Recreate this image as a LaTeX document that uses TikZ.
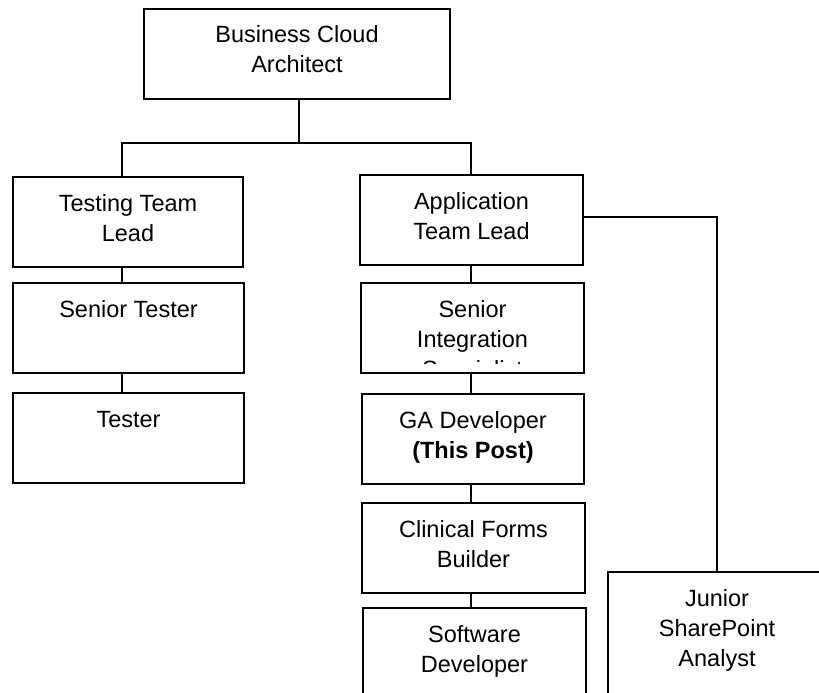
\documentclass[tikz,border=0pt]{standalone}
\usepackage{fontspec}
\setmainfont{Liberation Sans}
\newcommand{\lines}[1]{\begin{tabular}[t]{@{}c@{}}#1\end{tabular}}
\begin{document}
\begin{tikzpicture}[x=1pt,y=-1pt,
  box/.style={draw, line width=1.5pt, inner sep=0pt, minimum height=90pt},
  conn/.style={draw, line width=1.3pt},
  lbl/.style={anchor=base, inner sep=0pt, font=\fontsize{23.5}{30}\selectfont}]
\useasboundingbox (0,0) rectangle (819,693);
\clip (0,0) rectangle (819,693);
\fill[white] (0,0) rectangle (819,693);
% boxes
\node[box, minimum width=306pt] (top) at (297,54) {};
\node[box, minimum width=230pt] (ttl) at (128,222) {};
\node[box, minimum width=231pt] (st)  at (128.5,328) {};
\node[box, minimum width=231pt] (tst) at (128.5,438) {};
\node[box, minimum width=223pt] (app) at (471.5,220) {};
\node[box, minimum width=223pt] (sis) at (472.5,328) {};
\node[box, minimum width=222pt] (ga)  at (473,439) {};
\node[box, minimum width=223pt] (cfb) at (473.5,548) {};
\node[box, minimum width=223pt] (sd)  at (474.5,653) {};
\node[box, minimum width=218pt, minimum height=150pt] (jsa) at (717,647) {};
% labels
\node[lbl] (top-t) at (297,43) {\lines{Business Cloud\\Architect}};
\node[lbl] (ttl-t) at (128,211) {\lines{Testing Team\\Lead}};
\node[lbl] (st-t)  at (128.5,317) {\lines{Senior Tester}};
\node[lbl] (tst-t) at (128.5,427) {\lines{Tester}};
\node[lbl] (app-t) at (471.5,209) {\lines{Application\\Team Lead}};
\begin{scope}
  \clip (361,283) rectangle (584,363.5);
  \node[lbl] (sis-t) at (472.5,317) {\lines{Senior\\Integration\\Specialist}};
\end{scope}
\node[lbl] (ga-t)  at (473,428) {\lines{GA Developer\\\textbf{(This Post)}}};
\node[lbl] (cfb-t) at (473.5,537) {\lines{Clinical Forms\\Builder}};
\node[lbl] (sd-t)  at (474.5,642) {\lines{Software\\Developer}};
\node[lbl] (jsa-t) at (717,606) {\lines{Junior\\SharePoint\\Analyst}};
% connectors
\coordinate (bus) at (299,143);
\coordinate (lx) at (122,0);
\coordinate (rx) at (471,0);
\coordinate (jy) at (0,217);
\draw[conn] (top.south -| bus) -- (bus);
\draw[conn] (bus) -| (ttl.north -| lx);
\draw[conn] (bus) -| (app.north -| rx);
\draw[conn] (ttl.south -| lx) -- (st.north -| lx);
\draw[conn] (st.south -| lx) -- (tst.north -| lx);
\draw[conn] (app.south -| rx) -- (sis.north -| rx);
\draw[conn] (sis.south -| rx) -- (ga.north -| rx);
\draw[conn] (ga.south -| rx) -- (cfb.north -| rx);
\draw[conn] (cfb.south -| rx) -- (sd.north -| rx);
\draw[conn] (app.east |- jy) -| (jsa.north);
\end{tikzpicture}
\end{document}
